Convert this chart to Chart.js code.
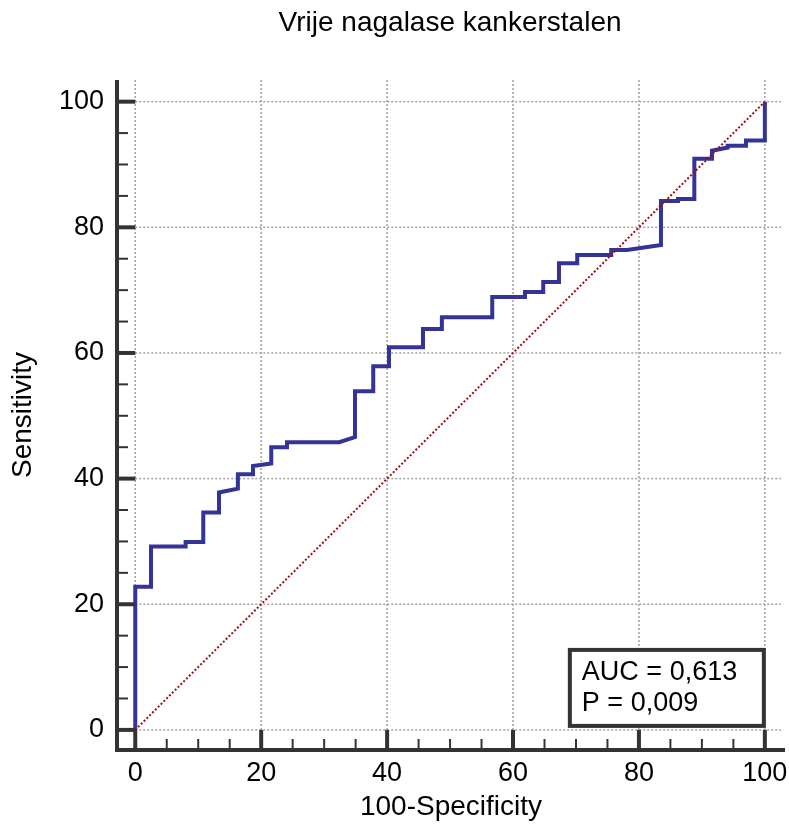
<!DOCTYPE html>
<html>
<head>
<meta charset="utf-8">
<script src="https://cdn.jsdelivr.net/npm/chart.js@4.4.0/dist/chart.umd.min.js"></script>
<style>
  html, body { margin: 0; padding: 0; background: #fff; }
  #wrap { width: 789px; height: 826px; }
</style>
</head>
<body>
<div id="wrap"><canvas id="rocChart"></canvas></div>
<script>
// ROC curve: 100-Specificity (x) and Sensitivity (y)
const fpr = [0, 0, 2.5, 2.5, 8, 8, 10.8, 10.8, 13.3, 13.3, 16.3, 16.3, 18.7, 18.7, 21.6, 21.6,
             24.1, 24.1, 32.4, 34.9, 34.9, 37.8, 37.8, 40.3, 40.3, 45.7, 45.7, 48.7, 48.7,
             56.7, 56.7, 61.9, 61.9, 64.8, 64.8, 67.3, 67.3, 70.2, 70.2, 75.6, 75.6, 78.1,
             83.5, 83.5, 86.2, 86.2, 88.8, 88.8, 91.6, 91.6, 94.1, 94.1, 97, 97, 100, 100];
const tpr = [0, 22.8, 22.8, 29.2, 29.2, 29.9, 29.9, 34.6, 34.6, 37.8, 38.4, 40.7, 40.7, 42, 42.4, 45,
             45, 45.8, 45.8, 46.6, 53.9, 53.9, 57.9, 57.9, 60.9, 60.9, 63.8, 63.8, 65.7,
             65.7, 68.9, 68.9, 69.7, 69.7, 71.3, 71.3, 74.3, 74.3, 75.6, 75.6, 76.4, 76.4,
             77.2, 84.2, 84.2, 84.5, 84.5, 90.9, 90.9, 92.2, 92.7, 93, 93, 93.8, 93.8, 100];
// diagonal reference line
const refX = [0, 100];
const refY = [0, 100];
const xTicks = [0, 20, 40, 60, 80, 100];
const yTicks = [0, 20, 40, 60, 80, 100];
const titleText = 'Vrije nagalase kankerstalen';
const aucText = 'AUC = 0,613';
const pText = 'P = 0,009';

const FONT = "'Liberation Sans', Arial, sans-serif";

// gridlines, spines with inward ticks, title and the AUC box
const rocDecor = {
    id: 'rocDecor',
    beforeDatasetsDraw(chart) {
        const {ctx, chartArea: a, scales: {x, y}} = chart;
        const x0 = x.getPixelForValue(0);
        const y0 = y.getPixelForValue(0);
        ctx.save();
        ctx.strokeStyle = '#a0a0a0';
        ctx.lineWidth = 1.5;
        ctx.setLineDash([2, 2]);
        xTicks.forEach(v => {
            const px = x.getPixelForValue(v);
            ctx.beginPath();
            ctx.moveTo(px, a.top);
            ctx.lineTo(px, y0);
            ctx.stroke();
        });
        yTicks.forEach(v => {
            const py = y.getPixelForValue(v);
            ctx.beginPath();
            ctx.moveTo(x0, py);
            ctx.lineTo(a.right - 4, py);
            ctx.stroke();
        });
        ctx.restore();
    },
    afterDatasetsDraw(chart) {
        const {ctx, chartArea: a, scales: {x, y}} = chart;
        const x0 = x.getPixelForValue(0);
        const y0 = y.getPixelForValue(0);
        ctx.save();
        ctx.strokeStyle = '#333';
        ctx.lineCap = 'butt';

        // spines
        ctx.lineWidth = 4;
        ctx.beginPath();
        ctx.moveTo(a.left, a.top);
        ctx.lineTo(a.left, a.bottom + 2);
        ctx.moveTo(a.left - 2, a.bottom);
        ctx.lineTo(a.right, a.bottom);
        ctx.stroke();

        // ticks pointing inwards, major every 20, minor every 5
        for (let v = 0; v <= 100; v += 5) {
            const major = v % 20 === 0;
            ctx.lineWidth = major ? 4 : 2;
            const py = y.getPixelForValue(v);
            ctx.beginPath();
            ctx.moveTo(a.left, py);
            ctx.lineTo(major ? x0 : a.left + 11, py);
            ctx.stroke();
            const px = x.getPixelForValue(v);
            ctx.beginPath();
            ctx.moveTo(px, a.bottom);
            ctx.lineTo(px, major ? y0 : a.bottom - 11);
            ctx.stroke();
        }

        // title, centred over the 0..100 range
        ctx.fillStyle = '#000';
        ctx.font = '28px ' + FONT;
        ctx.textAlign = 'center';
        ctx.textBaseline = 'middle';
        ctx.fillText(titleText, x.getPixelForValue(50), 23);

        // AUC box
        const bx = x.getPixelForValue(100) - 195;
        const by = y0 - 80;
        ctx.fillStyle = '#fff';
        ctx.fillRect(bx, by, 194, 76);
        ctx.lineWidth = 4;
        ctx.strokeRect(bx, by, 194, 76);
        ctx.fillStyle = '#000';
        ctx.font = '27px ' + FONT;
        ctx.textAlign = 'left';
        ctx.textBaseline = 'alphabetic';
        ctx.fillText(aucText, bx + 12, by + 30);
        ctx.fillText(pText, bx + 12, by + 61);
        ctx.restore();
    }
};

function fixPadding(s) {
    s.paddingLeft = 0;
    s.paddingRight = 0;
    s.paddingTop = 0;
    s.paddingBottom = 0;
}

Chart.defaults.font.family = FONT;
Chart.defaults.font.size = 27;
Chart.defaults.color = '#000';

let ctx = document.getElementById('rocChart').getContext('2d');
let rocChart = new Chart(ctx, {
    type: 'scatter',
    data: {
        datasets: [{
            label: 'Reference',
            data: refX.map((v, i) => ({x: v, y: refY[i]})),
            showLine: true,
            borderColor: '#9b1111',
            borderWidth: 2,
            borderDash: [2, 2],
            pointRadius: 0
        }, {
            label: 'ROC',
            data: fpr.map((v, i) => ({x: v, y: tpr[i]})),
            showLine: true,
            borderColor: '#333399',
            borderWidth: 4,
            pointRadius: 0,
            tension: 0
        }]
    },
    options: {
        responsive: true,
        maintainAspectRatio: false,
        animation: false,
        devicePixelRatio: 1,
        layout: {padding: {top: 80, right: 4, bottom: 0, left: 0}},
        plugins: {
            legend: {display: false},
            tooltip: {enabled: false},
            title: {display: false}
        },
        scales: {
            x: {
                type: 'linear',
                min: -2.9,
                max: 103.2,
                afterFit: s => { s.height = 76; fixPadding(s); },
                afterBuildTicks: s => { s.ticks = xTicks.map(v => ({value: v})); },
                grid: {display: false, drawTicks: false},
                border: {display: false},
                ticks: {padding: 7, color: '#000', font: {size: 27}},
                title: {display: true, text: '100-Specificity', color: '#000',
                        font: {size: 28}, padding: {top: 0, bottom: 2}}
            },
            y: {
                type: 'linear',
                min: -3.2,
                max: 103.45,
                afterFit: s => { s.width = 117; fixPadding(s); },
                afterBuildTicks: s => { s.ticks = yTicks.map(v => ({value: v})); },
                grid: {display: false, drawTicks: false},
                border: {display: false},
                ticks: {padding: 13, color: '#000', font: {size: 27}},
                title: {display: true, text: 'Sensitivity', color: '#000',
                        font: {size: 28}, padding: {top: 6, bottom: 0}}
            }
        }
    },
    plugins: [rocDecor]
});
</script>
</body>
</html>
